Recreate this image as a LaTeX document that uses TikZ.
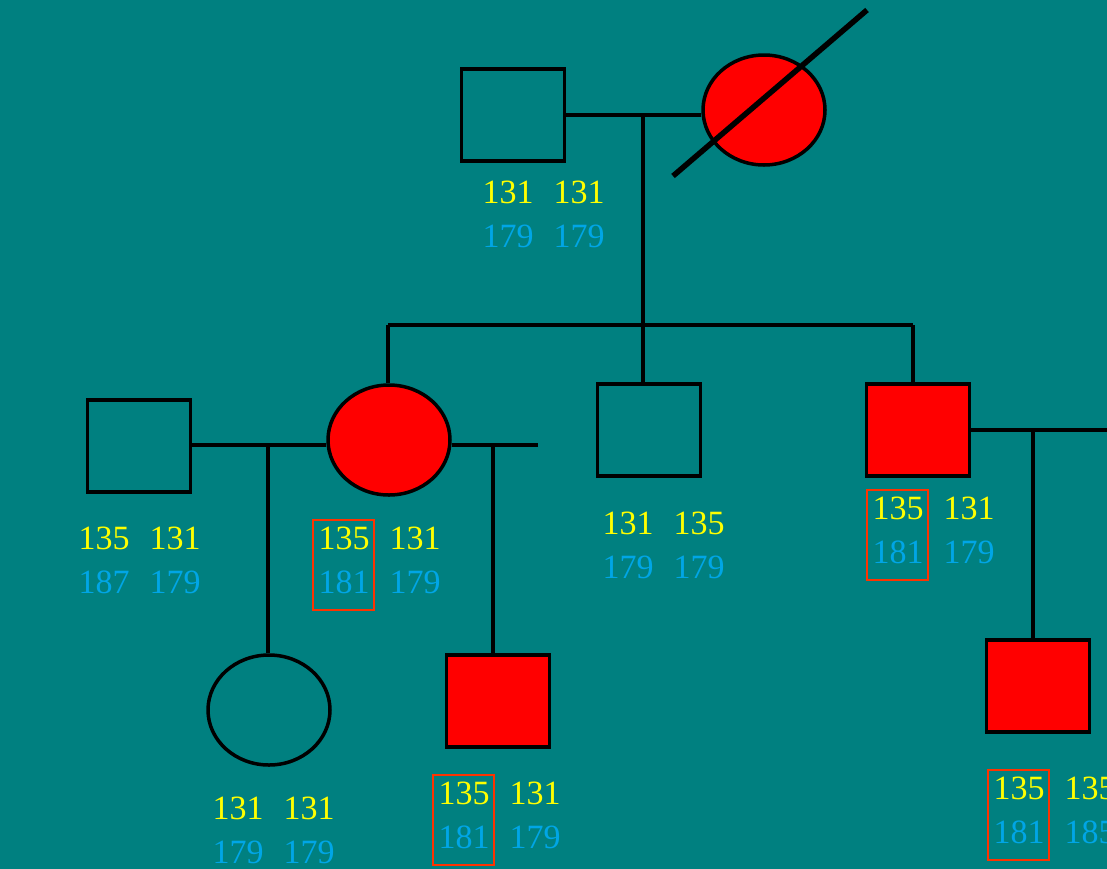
\documentclass[tikz,border=0pt]{standalone}
\usepackage{fontspec}
\setmainfont{Liberation Serif}
\usetikzlibrary{shapes.geometric, calc}

\definecolor{bgteal}{RGB}{0,128,128}
\definecolor{alleleA}{RGB}{255,255,0}
\definecolor{alleleB}{RGB}{0,166,230}
\definecolor{hapred}{RGB}{255,51,0}

% two marker rows for one person: name, x, baseline y, then the four alleles
\newcommand{\geno}[7]{%
  \node[yel] (#1a) at (#2,#3) {#4};
  \node[yel] (#1b) at ({#2+71},#3) {#5};
  \node[blu] (#1c) at (#2,{#3+44}) {#6};
  \node[blu] (#1d) at ({#2+71},{#3+44}) {#7};
}
% red box round the passed-on haplotype
\newcommand{\hapbox}[1]{%
  \draw[hapframe] ($(#1a.base)+(-31,-29)$) rectangle ($(#1c.base)+(30,17)$);
}

\tikzset{
  male/.style={rectangle, draw, line width=3.5pt, minimum width=103, minimum height=92, inner sep=0},
  female/.style={ellipse, draw, line width=3.5pt, minimum width=122, minimum height=110, inner sep=0},
  sick/.style={fill=red},
  line/.style={line width=3.5pt},
  yel/.style={anchor=base, inner sep=0, text=alleleA, font=\fontsize{34}{40}\selectfont},
  blu/.style={anchor=base, inner sep=0, text=alleleB, font=\fontsize{34}{40}\selectfont},
  hapframe/.style={draw=hapred, line width=2pt}
}

\begin{document}
\begin{tikzpicture}[x=1pt, y=-1pt]
    \useasboundingbox (0,0) rectangle (1107,868);
    \fill[bgteal] (-3,-3) rectangle (1110,871);
    \clip (0,0) rectangle (1107,868);

    % Generation I
    \node[male] (I1) at (513,115) {};
    \node[female, sick] (I2) at (764,110) {};
    \coordinate (slashA) at (673,176);
    \coordinate (slashB) at (867,10);
    \draw[line width=5.5pt] (slashA) -- (slashB);
    \coordinate (m1) at (643,115);
    \draw[line] (I1.east |- m1) -- (I2.west |- m1);
    \geno{I1}{508}{203}{131}{131}{179}{179}

    % sibship
    \coordinate (sib) at (643,325);
    \coordinate (s2) at (388,325);
    \coordinate (s4) at (913,325);
    \draw[line] (m1) -- (sib);
    \draw[line] (s2) -- (s4);

    % Generation II
    \node[male] (II1) at (139,446) {};
    \node[female, sick] (II2) at (389,440) {};
    \node[male] (II3) at (649,430) {};
    \node[male, sick] (II4) at (918,430) {};
    \draw[line] (s2) -- (s2 |- II2.north);
    \draw[line] (sib) -- (sib |- II3.north);
    \draw[line] (s4) -- (s4 |- II4.north);

    \geno{II1}{104}{549}{135}{131}{187}{179}
    \geno{II2}{344}{549}{135}{131}{181}{179}
    \hapbox{II2}
    \geno{II3}{628}{534}{131}{135}{179}{179}
    \geno{II4}{898}{519}{135}{131}{181}{179}
    \hapbox{II4}

    % matings of generation II
    \coordinate (m2) at (268,445);
    \coordinate (m3) at (493,445);
    \coordinate (pend) at (538,445);
    \coordinate (m4) at (1033,430);
    \coordinate (mate4) at (1107,430);
    \draw[line] (II1.east |- m2) -- (II2.west |- m2);
    \draw[line] (II2.east |- pend) -- (pend);
    \draw[line] (II4.east |- mate4) -- (mate4);

    % Generation III
    \node[female] (III1) at (269,710) {};
    \node[male, sick] (III2) at (498,701) {};
    \node[male, sick] (III3) at (1038,686) {};
    \draw[line] (m2) -- (m2 |- III1.north);
    \draw[line] (m3) -- (m3 |- III2.north);
    \draw[line] (m4) -- (m4 |- III3.north);

    \geno{III1}{238}{819}{131}{131}{179}{179}
    \geno{III2}{464}{804}{135}{131}{181}{179}
    \hapbox{III2}
    \geno{III3}{1019}{799}{135}{135}{181}{185}
    \hapbox{III3}
\end{tikzpicture}
\end{document}
